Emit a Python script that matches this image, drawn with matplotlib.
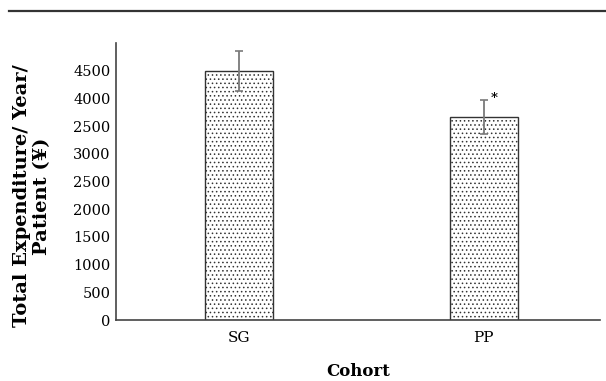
import numpy as np
import matplotlib
matplotlib.use("Agg")
import matplotlib.pyplot as plt

# values
cohorts = ["SG", "PP"]
expenditure = [4500, 3670]
expenditure_err = [360, 310]
significant = [False, True]

ytick_values = [0, 500, 1000, 1500, 2000, 2500, 3000, 3500, 4000, 4500]
# labels as printed in the original (note the "2500" at 3500)
ytick_labels = ["0", "500", "1000", "1500", "2000", "2500", "3000", "2500", "4000", "4500"]

plt.rcParams['font.family'] = ['DejaVu Serif']
plt.rcParams['hatch.linewidth'] = 0.6
plt.rcParams['hatch.color'] = '#444444'

fig = plt.figure(figsize=(6.06, 3.81), dpi=100)
ax = fig.add_axes([116 / 606, 61 / 381, 484 / 606, 277 / 381])

x = np.arange(len(cohorts))
ax.bar(x, expenditure, width=0.278, color='white', edgecolor='#333333',
       linewidth=1.0, hatch='....', zorder=2)
ax.errorbar(x, expenditure, yerr=expenditure_err, fmt='none', ecolor='#7a7a7a',
            elinewidth=1.3, capsize=2.6, capthick=1.2, zorder=3)

for xi, v, e, s in zip(x, expenditure, expenditure_err, significant):
    if s:
        ax.annotate("*", xy=(xi, v + e), xytext=(5, -4), textcoords='offset points',
                    ha='left', va='bottom', fontsize=9.5, fontweight='bold')

ax.set_xlim(-0.503, 1.476)
ax.set_ylim(0, 5000)
ax.set_xticks(x)
ax.set_xticklabels(cohorts, fontsize=11)
ax.set_yticks(ytick_values)
ax.set_yticklabels(ytick_labels, fontsize=10.5)
ax.tick_params(axis='both', length=0)
ax.tick_params(axis='y', pad=4)
ax.tick_params(axis='x', pad=8)

for side in ['top', 'right']:
    ax.spines[side].set_visible(False)
for side in ['left', 'bottom']:
    ax.spines[side].set_color('#444444')
    ax.spines[side].set_linewidth(1.2)

fig.text(32 / 606, 1 - 196 / 381, "Total Expenditure/ Year/\nPatient (¥)",
         rotation=90, ha='center', va='center', multialignment='center',
         fontsize=14, fontweight='bold', linespacing=1.1)
fig.text(358 / 606, 1 - 372 / 381, "Cohort", ha='center', va='center',
         fontsize=12, fontweight='bold')

# rule across the top of the figure
fig.add_artist(plt.Line2D([9 / 606, 1.0], [1 - 11 / 381, 1 - 11 / 381],
                          color='#333333', linewidth=1.6))

fig.savefig("out.png", dpi=100)
